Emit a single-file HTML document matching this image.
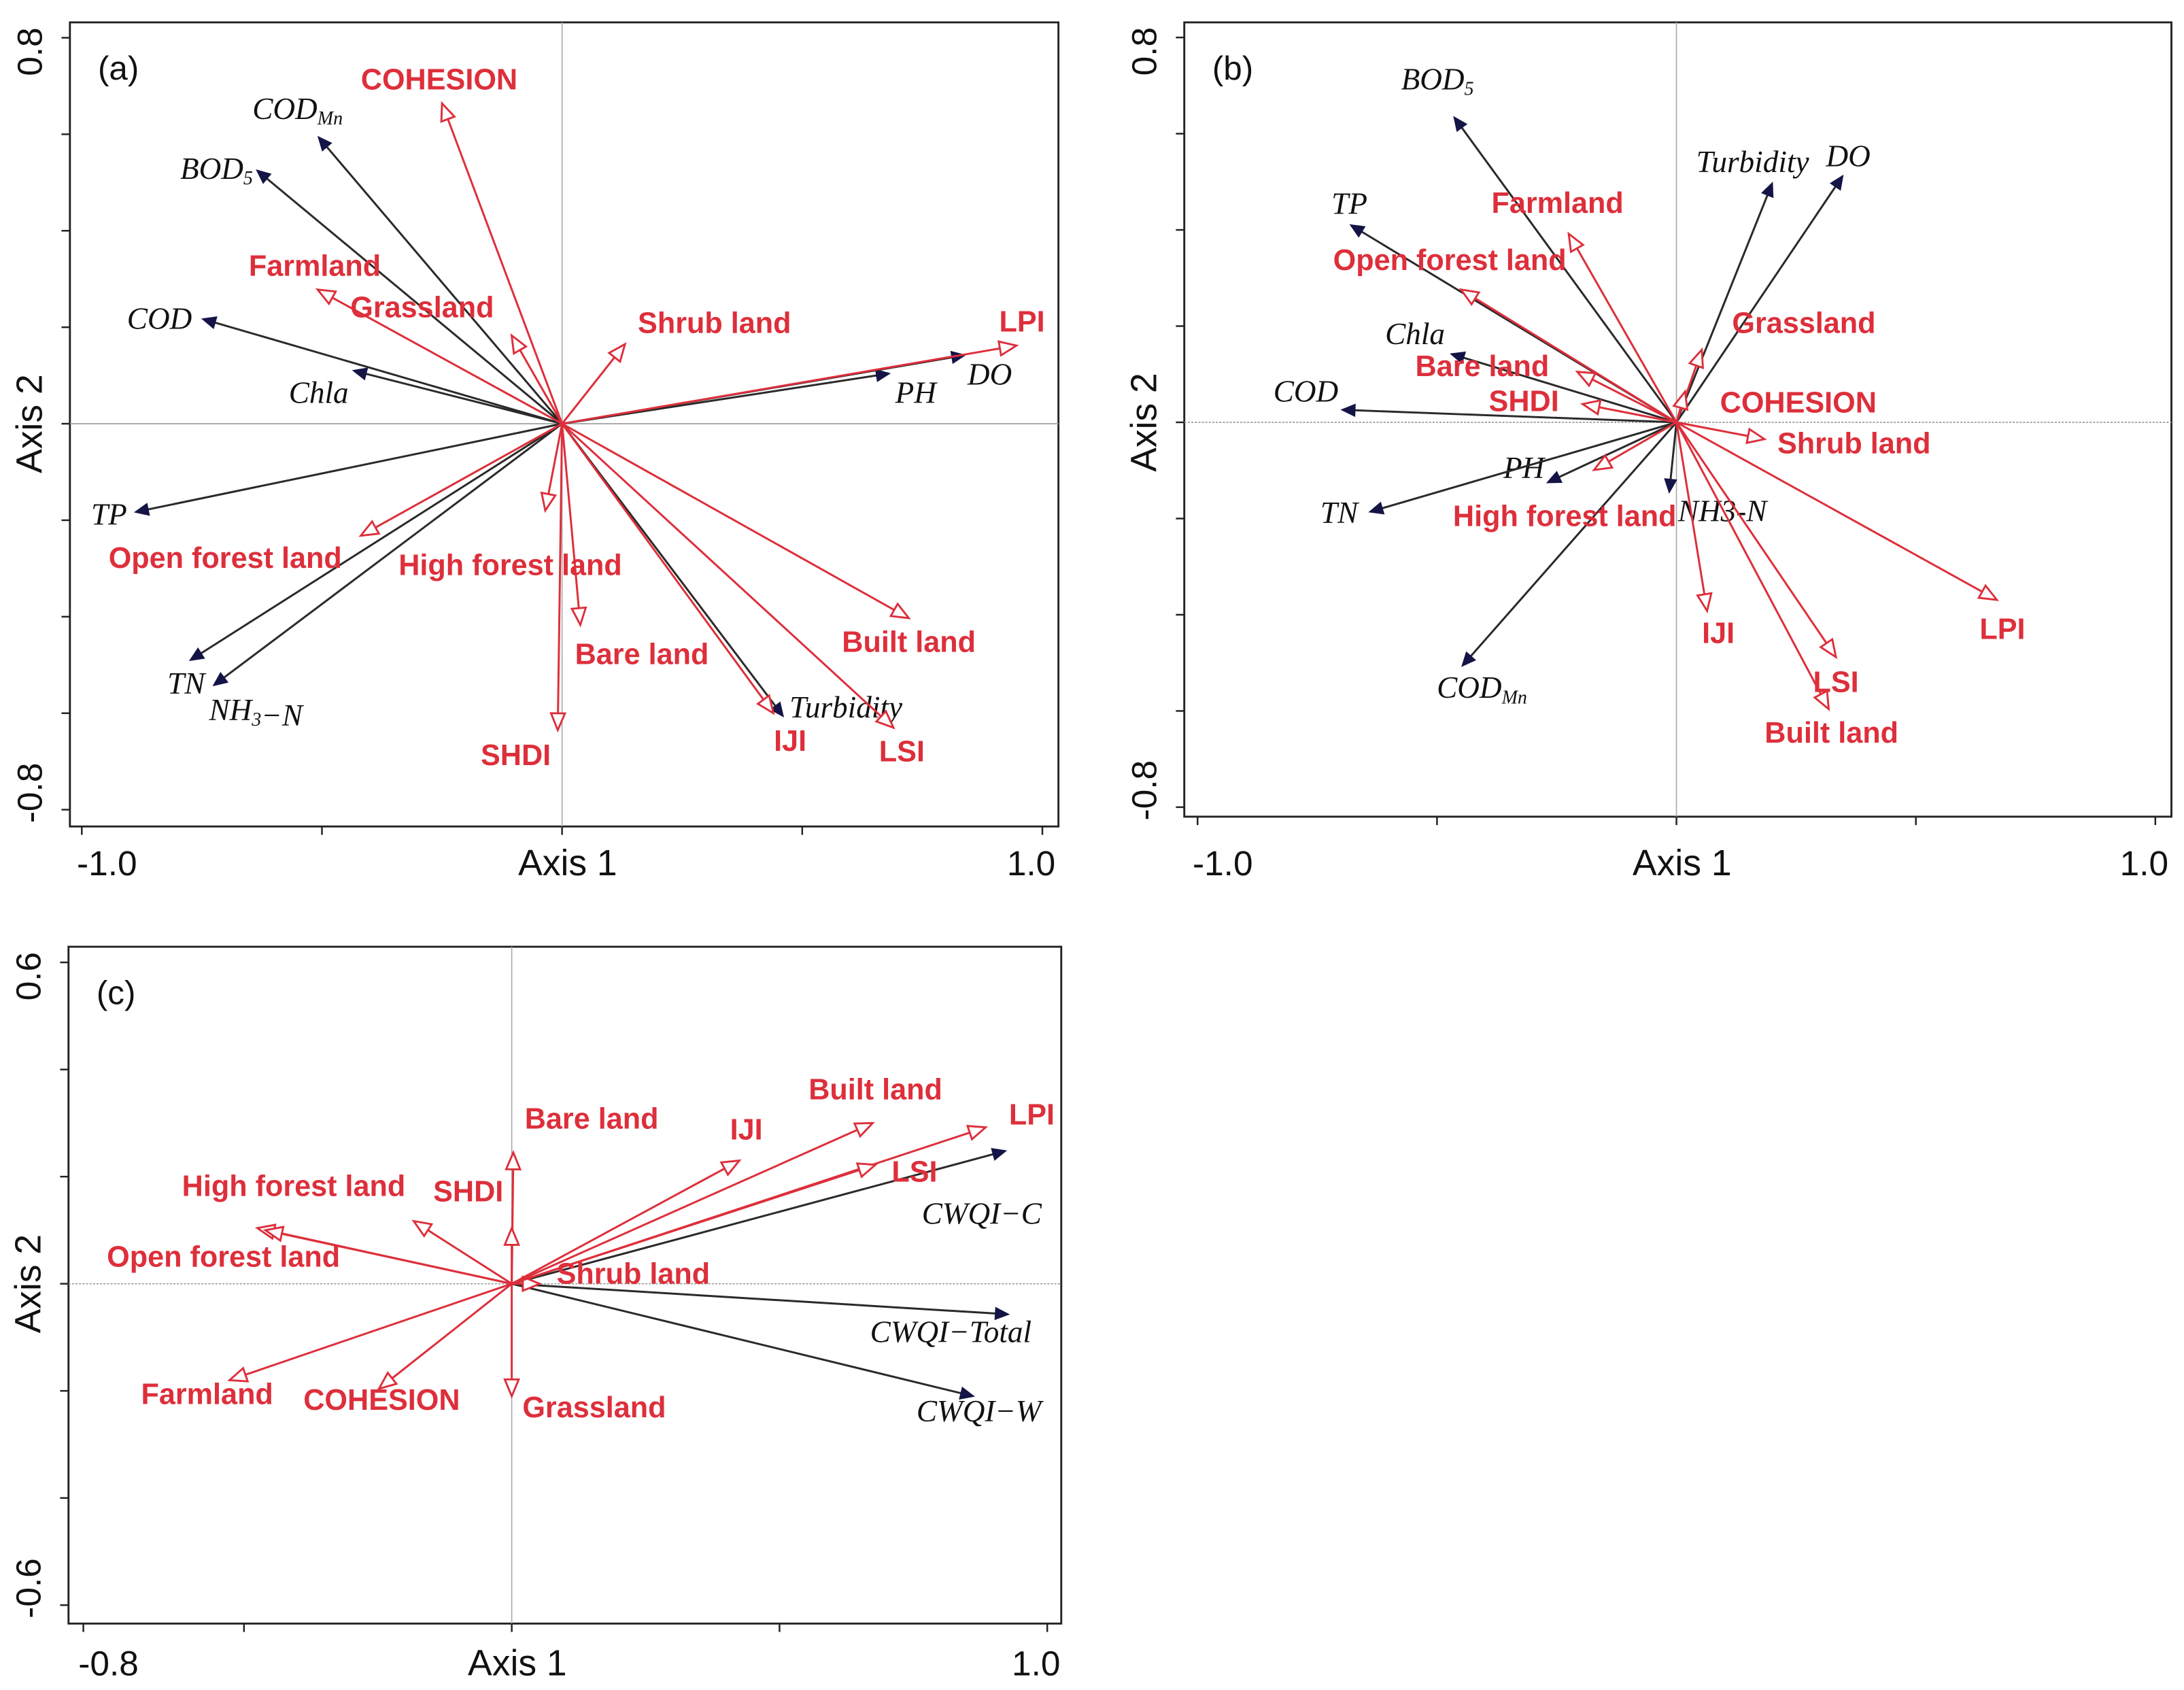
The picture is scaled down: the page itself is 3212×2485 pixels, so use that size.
<!DOCTYPE html>
<html><head><meta charset="utf-8"><style>
html,body{margin:0;padding:0;background:#fff;}
svg{display:block;}
</style></head><body>
<svg id="fig" xmlns="http://www.w3.org/2000/svg" width="3212" height="2485" viewBox="0 0 1562 1208.5" preserveAspectRatio="none"></svg>
<script>
// ---- Panel (a) data ----
const aNames = ["COD_{Mn}","BOD_{5}","COD","Chla","TP","TN","NH_{3}−N","PH","DO","Turbidity","COHESION","Farmland","Grassland","Shrub land","LPI","Open forest land","High forest land","Bare land","SHDI","IJI","LSI","Built land"];
const aType = ["e","e","e","e","e","e","e","e","e","e","l","l","l","l","l","l","l","l","l","l","l","l"];
const aX = [-0.507,-0.635,-0.748,-0.434,-0.888,-0.774,-0.725,0.681,0.838,0.46,-0.25,-0.509,-0.105,0.131,0.946,-0.419,-0.035,0.038,-0.009,0.44,0.69,0.722];
const aY = [0.594,0.525,0.217,0.110,-0.183,-0.490,-0.542,0.104,0.142,-0.606,0.664,0.278,0.183,0.165,0.162,-0.232,-0.18,-0.417,-0.635,-0.6,-0.63,-0.403];
const aLdx = [-15,-29,-31,-25,-19,-3,30,19,18,45,-2,-2,-64,64,4,-97,-25,44,-30,12,6,0];
const aLdy = [-20,-1,0,16,2,17,18,14,14,-6,-17,-17,-20,-15,-17,16,39,21,18,20,17,17];
// ---- Panel (b) data ----
const bNames = ["BOD_{5}","TP","Turbidity","DO","Chla","COD","PH","TN","NH3-N","COD_{Mn}","Farmland","Open forest land","Grassland","Bare land","SHDI","COHESION","Shrub land","High forest land","IJI","LSI","Built land","LPI"];
const bType = ["e","e","e","e","e","e","e","e","e","e","l","l","l","l","l","l","l","l","l","l","l","l"];
const bX = [-0.464,-0.68,0.20,0.347,-0.47,-0.698,-0.269,-0.64,-0.015,-0.447,-0.225,-0.45,0.053,-0.207,-0.196,0.018,0.184,-0.172,0.064,0.333,0.318,0.669];
const bY = [0.634,0.41,0.497,0.512,0.142,0.026,-0.125,-0.186,-0.145,-0.506,0.392,0.276,0.151,0.105,0.038,0.064,-0.035,-0.099,-0.392,-0.488,-0.596,-0.369];
const bLdx = [-12,-1,-14,4,-26,-26,-17,-22,38,14,-8,-8,73,-68,-42,81,64,-21,8,0,2,4];
const bLdy = [-27,-15,-15,-14,-14,-13,-10,1,14,16,-22,-21,-19,-4,-2,8,3,33,16,18,17,21];
// ---- Panel (c) data ----
const cNames = ["CWQI−C","CWQI−Total","CWQI−W","Bare land","","SHDI","High forest land","Open forest land","Shrub land","Farmland","COHESION","Grassland","IJI","Built land","LPI","LSI"];
const cType = ["e","e","e","l","l","l","l","l","l","l","l","l","l","l","l","l"];
const cX = [0.922,0.927,0.862,0.003,0.0,-0.183,-0.475,-0.46,0.052,-0.527,-0.248,0.0,0.425,0.674,0.885,0.679];
const cY = [0.248,-0.057,-0.21,0.245,0.104,0.117,0.104,0.10,0.0,-0.18,-0.196,-0.21,0.23,0.30,0.292,0.222];
const cLdx = [-17,-41,4,56,0,39,26,-30,67,-16,2,59,5,2,33,28];
const cLdy = [45,13,11,-24,0,-21,-30,19,-7,10,8,8,-22,-24,-9,5];
// tick label arrays
const abXTicks = ["-1.0","1.0"], abYTicks = ["0.8","-0.8"];
const cXTicks = ["-0.8","1.0"], cYTicks = ["0.6","-0.6"];

const NS="http://www.w3.org/2000/svg";
const svg=document.getElementById('fig');
const RED="#dd2f3b", NAVY="#141446", DARK="#2a2a2a";
function mk(tag,attrs,parent){const e=document.createElementNS(NS,tag);for(const k in attrs)e.setAttribute(k,attrs[k]);(parent||svg).appendChild(e);return e;}

function setLabel(t,str){
  const re=/_\{([^}]*)\}/g;let last=0,m;
  while((m=re.exec(str))){
    if(m.index>last){const s=mk('tspan',{},t);s.textContent=str.slice(last,m.index);}
    const s=mk('tspan',{'font-size':'62%','dy':'4'},t);s.textContent=m[1];
    const r=mk('tspan',{'dy':'-4'},t);r.textContent='';
    last=re.lastIndex;
  }
  if(last<str.length){const s=mk('tspan',{},t);s.textContent=str.slice(last);}
}

function panel(cfg){
  const g=mk('g',{});
  
  
  const sx=v=>cfg.ox+v*cfg.kx, sy=v=>cfg.oy-v*cfg.ky;
  const fr=mk('rect',{x:cfg.L,y:cfg.T,width:cfg.R-cfg.L,height:cfg.B-cfg.T,fill:'none',stroke:'#222','stroke-width':1.4},g);
  
  const zx=mk('line',{x1:cfg.L,x2:cfg.R,y1:sy(0),y2:sy(0),stroke:'#999','stroke-width':0.8,'stroke-dasharray':cfg.dashH?'1.5 1':''},g);
  
  const zy=mk('line',{x1:sx(0),x2:sx(0),y1:cfg.T,y2:cfg.B,stroke:'#aaa','stroke-width':0.8},g);
  
  cfg.xt.forEach(v=>{const t=mk('line',{x1:sx(v),x2:sx(v),y1:cfg.B,y2:cfg.B+6,stroke:'#222','stroke-width':1.2},g);});
  cfg.yt.forEach(v=>{const t=mk('line',{x1:cfg.L-6,x2:cfg.L,y1:sy(v),y2:sy(v),stroke:'#222','stroke-width':1.2},g);});
  const font='"Liberation Sans", sans-serif';
  const tly=cfg.tly;
  [[cfg.xmin,cfg.xl[0]],[cfg.xmax,cfg.xl[1]]].forEach(([v,s])=>{const t=mk('text',{x:sx(v)+(v<0?18:-8),y:tly,'font-family':font,'font-size':25,'text-anchor':'middle',fill:'#111'},g);t.textContent=s;});
  [[cfg.ymax,cfg.yl[0]],[cfg.ymin,cfg.yl[1]]].forEach(([v,s])=>{const yy=sy(v)+(v>0?10:-12);const t=mk('text',{x:0,y:0,transform:`translate(${cfg.L-20},${yy}) rotate(-90)`,'font-family':font,'font-size':25,'text-anchor':'middle',fill:'#111'},g);t.textContent=s;});
  const xa=mk('text',{x:sx(0)+4,y:tly,'font-family':font,'font-size':26,'text-anchor':'middle',fill:'#111'},g);xa.textContent='Axis 1';
  const ya=mk('text',{x:0,y:0,transform:`translate(${cfg.L-20},${sy(0)}) rotate(-90)`,'font-family':font,'font-size':26,'text-anchor':'middle',fill:'#111'},g);ya.textContent='Axis 2';
  const pl=mk('text',{x:cfg.L+20,y:cfg.T+41,'font-family':font,'font-size':24,fill:'#111'},g);pl.textContent='('+cfg.id+')';
  for(let pass=0;pass<2;pass++){
  cfg.names.forEach((n,i)=>{
    const isL=cfg.type[i]==='l'; if((pass===0)===isL) return;
    const x0=sx(0),y0=sy(0),x1=sx(cfg.X[i]),y1=sy(cfg.Y[i]);
    const dx=x1-x0,dy=y1-y0,len=Math.hypot(dx,dy)||1,ux=dx/len,uy=dy/len,px=-uy,py=ux;
    const col=isL?RED:DARK;
    const hl=isL?12:9, hw=isL?5:4;
    const bx=x1-ux*hl,by=y1-uy*hl;
    const ln=mk('line',{x1:x0,y1:y0,x2:isL?bx:x1-ux*4,y2:isL?by:y1-uy*4,stroke:col,'stroke-width':1.45},g);
    
    
    const hd=mk('polygon',{points:`${x1},${y1} ${bx+px*hw},${by+py*hw} ${bx-px*hw},${by-py*hw}`,fill:isL?'#fff':NAVY,stroke:isL?RED:NAVY,'stroke-width':isL?1.4:1},g);
    
    
    if(n){
      const t=mk('text',{x:x1+cfg.ldx[i],y:y1+cfg.ldy[i]+7,'text-anchor':'middle',
        'font-family':isL?'"Liberation Sans", sans-serif':'"Liberation Serif", serif',
        'font-size':isL?21:22,'font-weight':isL?'bold':'normal','font-style':isL?'normal':'italic',
        fill:isL?RED:'#111'},g);
      setLabel(t,n);
      
      
    }
  });}
}
panel({id:'a',L:50,R:757,T:16,B:591,ox:402,oy:303,kx:343.5,ky:345,xmin:-1,xmax:1,ymin:-0.8,ymax:0.8,tly:626,
  xt:[-1,-0.5,0,0.5,1],yt:[-0.8,-0.6,-0.4,-0.2,0,0.2,0.4,0.6,0.8],xl:abXTicks,yl:abYTicks,
  names:aNames,type:aType,X:aX,Y:aY,ldx:aLdx,ldy:aLdy,dashH:false});
panel({id:'b',L:847,R:1553,T:16,B:584,ox:1199,oy:302,kx:342.5,ky:344,xmin:-1,xmax:1,ymin:-0.8,ymax:0.8,tly:626,
  xt:[-1,-0.5,0,0.5,1],yt:[-0.8,-0.6,-0.4,-0.2,0,0.2,0.4,0.6,0.8],xl:abXTicks,yl:abYTicks,
  names:bNames,type:bType,X:bX,Y:bY,ldx:bLdx,ldy:bLdy,dashH:true});
panel({id:'c',L:49,R:759,T:677,B:1161,ox:366,oy:918,kx:383,ky:383,xmin:-0.8,xmax:1,ymin:-0.6,ymax:0.6,tly:1198,
  xt:[-0.8,-0.5,0,0.5,1],yt:[-0.6,-0.4,-0.2,0,0.2,0.4,0.6],xl:cXTicks,yl:cYTicks,
  names:cNames,type:cType,X:cX,Y:cY,ldx:cLdx,ldy:cLdy,dashH:true});
</script>
</body></html>
